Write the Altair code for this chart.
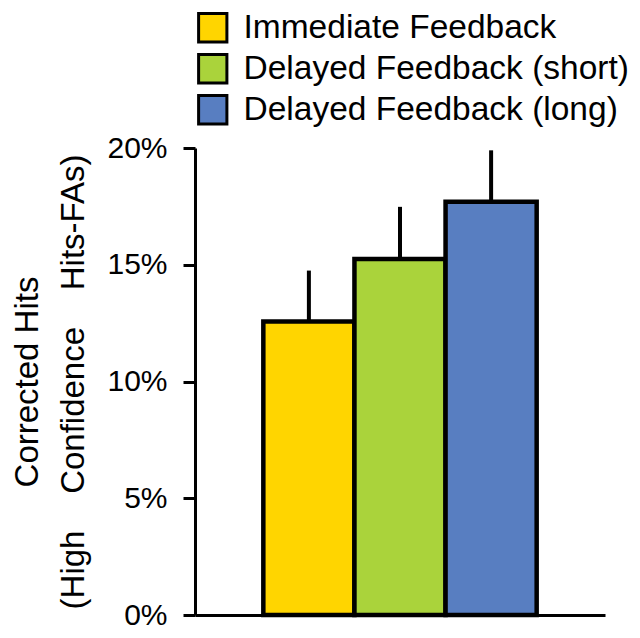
import altair as alt
import pandas as pd

conditions = ["Immediate Feedback", "Delayed Feedback (short)", "Delayed Feedback (long)"]
means = [0.1257, 0.1525, 0.1770]
uppers = [0.1475, 0.1748, 0.1990]
colors = ["#FFD500", "#AAD33B", "#587EC1"]
y_ticks = [0, 0.05, 0.10, 0.15, 0.20]

df = pd.DataFrame({"condition": conditions, "mean": means, "upper": uppers})

FONT = "Liberation Sans"
GAP = "\u00a0\u00a0\u00a0\u00a0"

x_enc = alt.X(
    "condition:N",
    sort=conditions,
    scale=alt.Scale(paddingInner=0, paddingOuter=0.75),
    axis=alt.Axis(labels=False, ticks=False, title=None, domainWidth=3,
                  domainColor="black", grid=False),
)

y_enc = alt.Y(
    "mean:Q",
    scale=alt.Scale(domain=[0, 0.2], nice=False, zero=True),
    axis=alt.Axis(
        values=y_ticks,
        format=".0%",
        title=["Corrected Hits", "(High" + GAP + "Confidence" + GAP + "Hits-FAs)"],
        titleFontSize=33,
        titleFontWeight="normal",
        titleFont=FONT,
        titleColor="black",
        titleLineHeight=46,
        titlePadding=16,
        labelFontSize=30,
        labelFont=FONT,
        labelColor="black",
        labelPadding=16,
        tickSize=12,
        tickWidth=3,
        tickColor="black",
        domainWidth=3,
        domainColor="black",
        grid=False,
    ),
)

rules = alt.Chart(df).mark_rule(color="black", strokeWidth=4).encode(
    x=x_enc,
    y=alt.Y("mean:Q", scale=alt.Scale(domain=[0, 0.2], nice=False)),
    y2="upper:Q",
)

bars = alt.Chart(df).mark_bar(stroke="black", strokeWidth=4.5, opacity=1).encode(
    x=x_enc,
    y=y_enc,
    color=alt.Color(
        "condition:N",
        sort=conditions,
        scale=alt.Scale(domain=conditions, range=colors),
        legend=alt.Legend(
            title=None,
            orient="none",
            legendX=1,
            legendY=-137,
            symbolType="square",
            symbolSize=800,
            symbolStrokeColor="black",
            symbolStrokeWidth=3,
            symbolOpacity=1,
            labelFontSize=33.5,
            labelFont=FONT,
            labelColor="black",
            labelOffset=14,
            rowPadding=0,
            padding=0,
            labelLimit=600,
        ),
    ),
)

chart = (
    alt.layer(rules, bars)
    .properties(
        width=410,
        height=467,
        autosize=alt.AutoSizeParams(type="none"),
        padding={"left": 187, "top": 140, "right": 26, "bottom": 15},
        view=alt.ViewBackground(stroke=None, strokeWidth=0),
    )
    .configure_view(stroke=None, strokeWidth=0)
    .configure(background="white")
)

chart.save("out.html", embed_options={"renderer": "svg", "actions": False})
